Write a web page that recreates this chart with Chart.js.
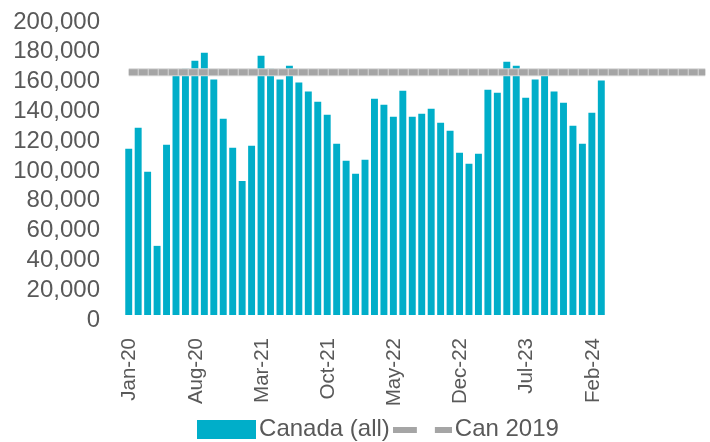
<!DOCTYPE html>
<html>
<head>
<meta charset="utf-8">
<script src="https://cdn.jsdelivr.net/npm/chart.js@4/dist/chart.umd.min.js"></script>
<style>
html,body{margin:0;padding:0;background:#fff;overflow:hidden}
#wrap{width:710px;height:442px}
</style>
</head>
<body>
<div id="wrap"><canvas id="c" width="710" height="442"></canvas></div>
<script>
// ---- data ----
const categories = [
  'Jan-20','Feb-20','Mar-20','Apr-20','May-20','Jun-20','Jul-20','Aug-20','Sep-20','Oct-20','Nov-20','Dec-20',
  'Jan-21','Feb-21','Mar-21','Apr-21','May-21','Jun-21','Jul-21','Aug-21','Sep-21','Oct-21','Nov-21','Dec-21',
  'Jan-22','Feb-22','Mar-22','Apr-22','May-22','Jun-22','Jul-22','Aug-22','Sep-22','Oct-22','Nov-22','Dec-22',
  'Jan-23','Feb-23','Mar-23','Apr-23','May-23','Jun-23','Jul-23','Aug-23','Sep-23','Oct-23','Nov-23','Dec-23',
  'Jan-24','Feb-24','Mar-24','Apr-24','May-24','Jun-24','Jul-24','Aug-24','Sep-24','Oct-24','Nov-24','Dec-24',
  'Jan-25','Feb-25'
];
const shownTickLabels = ['Jan-20','Aug-20','Mar-21','Oct-21','May-22','Dec-22','Jul-23','Feb-24'];
const canadaAll = [
  111600,125700,96100,46400,114200,163000,165300,170700,176000,158000,
  131700,112200,90000,113600,174000,165300,158000,167300,156000,150000,
  143100,134400,115000,103500,94800,104200,145200,141100,133000,150500,
  133000,135000,138400,129000,123700,108900,101500,108200,151200,149200,
  170000,167300,145800,158000,163000,150000,142500,127000,115000,135800,
  157300
];
const can2019 = [
  163000,163000,163000,163000,163000,163000,163000,163000,163000,163000,
  163000,163000,163000,163000,163000,163000,163000,163000,163000,163000,
  163000,163000,163000,163000,163000,163000,163000,163000,163000,163000,
  163000,163000,163000,163000,163000,163000,163000,163000,163000,163000,
  163000,163000,163000,163000,163000,163000,163000,163000,163000,163000,
  163000,163000,163000,163000,163000,163000,163000,163000,163000,163000,
  163000,163000
];
const yTicks = {min: 0, max: 200000, step: 20000};

// ---- styles ----
const BAR = '#00AEC9';
const LINE = '#A5A5A5';
const LINE_EDGE = '#D6D6D6';
const TEXT = '#595959';
const FONT = "'Liberation Sans', Arial, sans-serif";

function swatch(w, h, draw) {
  const c = document.createElement('canvas');
  c.width = w; c.height = h;
  draw(c.getContext('2d'), w, h);
  return c;
}
const barSwatch = swatch(59, 19, (x, w, h) => { x.fillStyle = BAR; x.fillRect(0, 0, w, h); });
const lineSwatch = swatch(59, 6, (x, w, h) => { x.fillStyle = LINE; x.fillRect(0, 0, 24, h); x.fillRect(42, 0, 17, h); });

Chart.defaults.font.family = FONT;
Chart.defaults.color = TEXT;

const noClip = () => undefined;

new Chart(document.getElementById('c'), {
  data: {
    labels: categories,
    datasets: [
      {
        type: 'bar', label: 'Canada (all)', data: canadaAll,
        backgroundColor: BAR, borderWidth: 0,
        barPercentage: 0.733, categoryPercentage: 1.0, order: 2
      },
      {
        type: 'line', label: 'Can 2019 edge', data: can2019,
        borderColor: LINE_EDGE, borderWidth: 8, pointRadius: 0, fill: false, order: 1
      },
      {
        type: 'line', label: 'Can 2019', data: can2019,
        borderColor: LINE, borderWidth: 6, borderDash: [9, 1], borderCapStyle: 'butt',
        pointRadius: 0, fill: false, order: 0
      }
    ]
  },
  options: {
    responsive: false,
    animation: false,
    devicePixelRatio: 1,
    layout: {padding: {left: 49, right: -6, top: 17, bottom: -9.5}},
    scales: {
      x: {
        type: 'category',
        offset: true,
        grid: {display: false, drawTicks: false},
        border: {display: false},
        ticks: {
          autoSkip: false, maxRotation: 90, minRotation: 90, padding: 23, labelOffset: 1,
          font: {size: 20.5}, color: TEXT,
          callback: function(v, i) {
            const l = categories[i];
            return shownTickLabels.includes(l) ? l : null;
          }
        },
        afterFit: function(s) { s.height = 90.5; s.paddingLeft = 0; s.paddingRight = 0; s._computeLabelArea = noClip; }
      },
      y: {
        min: yTicks.min, max: yTicks.max,
        grid: {display: false, drawTicks: false},
        border: {display: false},
        ticks: {
          stepSize: yTicks.step, padding: 24, labelOffset: 5, autoSkip: false,
          font: {size: 24}, color: TEXT,
          callback: v => v.toLocaleString('en-US')
        },
        afterFit: function(s) { s.width = 75; s.paddingTop = 0; s.paddingBottom = 0; s._computeLabelArea = noClip; }
      }
    },
    plugins: {
      tooltip: {enabled: false},
      legend: {
        position: 'bottom',
        labels: {
          usePointStyle: true, pointStyleWidth: 41, padding: 12,
          font: {size: 24}, color: TEXT,
          generateLabels: function(chart) {
            return [
              {text: 'Canada (all)', pointStyle: barSwatch, fillStyle: BAR, strokeStyle: BAR, lineWidth: 0, fontColor: TEXT, datasetIndex: 0, hidden: false},
              {text: 'Can 2019', pointStyle: lineSwatch, fillStyle: LINE, strokeStyle: LINE, lineWidth: 0, fontColor: TEXT, datasetIndex: 2, hidden: false}
            ];
          }
        }
      }
    }
  }
});
</script>
</body>
</html>
